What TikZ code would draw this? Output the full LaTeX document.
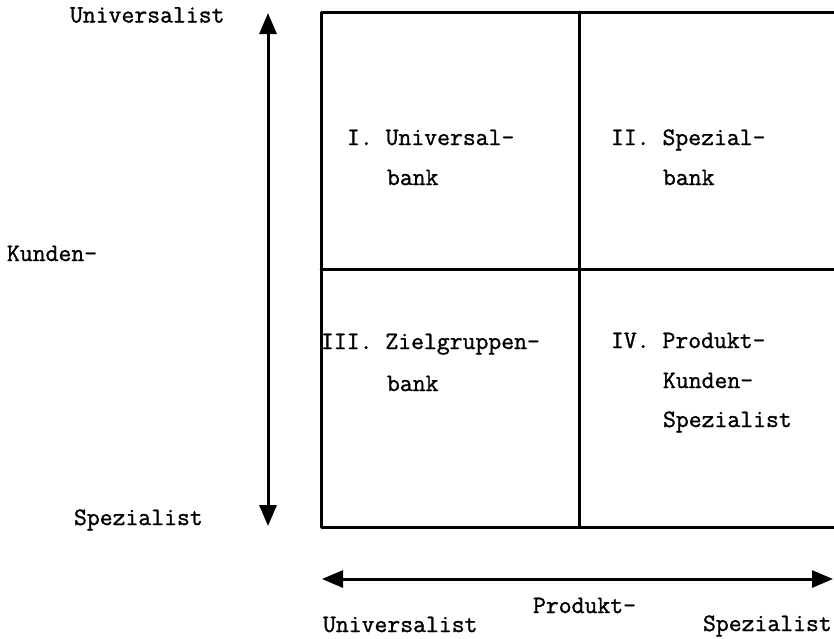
\documentclass[tikz,border=0pt]{standalone}
\usepackage{fontspec}
\newfontfamily\typew[FakeBold=1.2]{Latin Modern Mono}
\usetikzlibrary{arrows.meta}
\begin{document}
\begin{tikzpicture}[x=1pt,y=-1pt,
  lbl/.style={anchor=base west,inner sep=0pt,outer sep=0pt,font=\typew\fontsize{25}{30}\selectfont},
  gridline/.style={line width=3pt,line join=round,line cap=round},
  axis/.style={line width=3pt,{Triangle[length=21pt,width=17pt]}-{Triangle[length=21pt,width=17pt]}}]
\useasboundingbox (0,0) rectangle (834,638);
% grid
\coordinate (tl) at (321,12);
\coordinate (tm) at (579,12);
\coordinate (tr) at (850,12);
\coordinate (ml) at (321,269);
\coordinate (mr) at (850,269);
\coordinate (bl) at (321,527);
\coordinate (bm) at (579,527);
\coordinate (br) at (850,527);
\draw[gridline] (tr) -- (tl) -- (bl) -- (br);
\draw[gridline] (tm) -- (bm);
\draw[gridline] (ml) -- (mr);
% axes
\coordinate (vt) at (268,13);
\coordinate (vb) at (268,526);
\coordinate (hl) at (322,579);
\coordinate (hr) at (833,579);
\draw[axis] (vt) -- (vb);
\draw[axis] (hl) -- (hr);
% left labels
\node[lbl] (lu) at (70,22.5) {Universalist};
\node[lbl] (lk) at (7,261) {Kunden-};
\node[lbl] (ls) at (74,525) {Spezialist};
% bottom labels
\node[lbl] (bp) at (533,613) {Produkt-};
\node[lbl] (bu) at (323,632) {Universalist};
\node[lbl] (bs) at (703,631) {Spezialist};
% quadrants
\node[lbl] (q1a) at (347,145) {I. Universal-};
\node[lbl] (q1b) at (387,185) {bank};
\node[lbl] (q2a) at (611,145) {II. Spezial-};
\node[lbl] (q2b) at (663,185) {bank};
\node[lbl] (q3a) at (321,349) {III. Zielgruppen-};
\node[lbl] (q3b) at (387,391) {bank};
\node[lbl] (q4a) at (611,348) {IV. Produkt-};
\node[lbl] (q4b) at (663,388) {Kunden-};
\node[lbl] (q4c) at (663,427) {Spezialist};
\end{tikzpicture}
\end{document}
